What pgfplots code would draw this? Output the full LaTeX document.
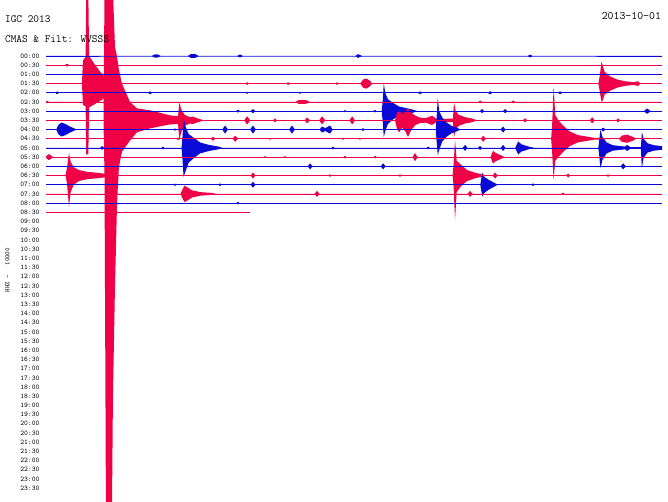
\documentclass[border=0pt]{standalone}
\usepackage{pgfplots}
\pgfplotsset{compat=1.18}
\usepackage{pgfplotstable}
\usepgfplotslibrary{fillbetween}
\definecolor{hblue}{RGB}{10,10,215}
\definecolor{hred}{RGB}{240,0,70}

% one helicorder line: t in minutes within the half hour, up/dn = envelope in line spacings
\newcommand{\trace}[3]{%
  \addplot[draw=none, forget plot, name path=u#1] table[x=t, y expr=\thisrow{up}-#1] {#3};
  \addplot[draw=none, forget plot, name path=l#1] table[x=t, y expr=-\thisrow{dn}-#1] {#3};
  \addplot[fill=#2, draw=none, forget plot] fill between[of=u#1 and l#1];
  \addplot[#2, line width=0.75pt, forget plot] table[x=t, y expr=-#1] {#3};
}

\pgfplotstableread{
t up dn
0 0 0
5.15 0 0
5.3 0.18 0.18
5.45 0.16 0.16
5.6 0 0
6.9 0 0
7.05 0.2 0.2
7.25 0.22 0.22
7.45 0 0
9.3 0 0
9.45 0.17 0.17
9.6 0 0
15.05 0 0
15.2 0.2 0.2
15.4 0 0
23.45 0 0
23.58 0.16 0.16
23.7 0 0
30 0 0
}\TrA
\pgfplotstableread{
t up dn
0 0 0
0.9 0 0
1.02 0.15 0.15
1.15 0 0
30 0 0
}\TrB
\pgfplotstableread{
t up dn
0 0 0
2.5 0 0
2.63 0.2 0.2
2.8 0 0
30 0 0
}\TrC
\pgfplotstableread{
t up dn
0 0 0
1.75 0 0
1.8 2.5 2.3
1.93 2.9 2.5
1.96 10 7.7
2.06 10 7.7
2.1 3.0 2.6
2.4 2.0 2.2
2.7 1.1 1.8
2.95 0.6 1.4
3.2 0.3 0.6
3.5 0.12 0.15
3.7 0 0
9.7 0 0
9.79 0.15 0.15
9.9 0 0
11.7 0 0
11.79 0.15 0.15
11.9 0 0
14.1 0 0
14.17 0.15 0.15
14.25 0 0
15.3 0 0
15.45 0.45 0.45
15.6 0.55 0.55
15.75 0.35 0.35
15.9 0 0
26.9 0 0
26.98 1.0 1.0
27.05 2.4 1.96
27.12 1.9 1.8
27.2 1.3 1.2
27.45 0.8 0.8
27.8 0.45 0.45
28.2 0.25 0.25
28.6 0.15 0.15
28.84 0.25 0.25
28.95 0 0
30 0 0
}\TrD
\pgfplotstableread{
t up dn
0 0 0
0.45 0 0
0.54 0.16 0.16
0.65 0 0
4.95 0 0
5.07 0.16 0.16
5.2 0 0
9.72 0 0
9.79 0.12 0.12
9.86 0 0
12.3 0 0
12.37 0.12 0.12
12.44 0 0
18.1 0 0
18.22 0.16 0.16
18.35 0 0
21.5 0 0
21.63 0.17 0.17
21.75 0 0
24.92 0 0
25.04 0.16 0.16
25.15 0 0
30 0 0
}\TrE
\pgfplotstableread{
t up dn
0 0 0
0.05 0.15 0.15
0.15 0 0
12.15 0 0
12.3 0.2 0.2
12.5 0.22 0.22
12.7 0.18 0.18
12.85 0 0
21.05 0 0
21.14 0.16 0.16
21.25 0 0
22.65 0 0
22.75 0.16 0.16
22.85 0 0
30 0 0
}\TrF
\pgfplotstableread{
t up dn
0 0 0
9.25 0 0
9.35 0.16 0.16
9.45 0 0
9.95 0 0
10.08 0.22 0.22
10.2 0 0
14.5 0 0
14.56 0.12 0.12
14.65 0 0
15.95 0 0
16.03 0.15 0.15
16.1 0 0
16.35 0 0
16.4 1.2 1.2
16.45 3.05 2.83
16.52 2.0 2.2
16.65 1.3 1.4
16.9 0.9 0.9
17.2 0.5 0.5
17.6 0.3 0.3
17.9 0.15 0.15
18.1 0 0
21.12 0 0
21.24 0.22 0.22
21.35 0 0
22.24 0 0
22.36 0.22 0.22
22.48 0 0
29.12 0 0
29.27 0.3 0.3
29.45 0 0
30 0 0
}\TrG
\pgfplotstableread{
t up dn
0 0 0
2.8 0 0
2.85 14 6
2.92 14 43
3.21 14 43
3.26 14 30
3.36 8.0 18
3.46 6.9 9
3.55 5.5 5.1
3.70 4.0 3.4
4.09 2.0 2.2
4.43 1.3 1.3
5.07 1.09 0.87
6.04 0.54 0.44
6.43 0.45 0.4
6.5 2.0 2.15
6.58 1.2 1.3
6.75 0.6 0.6
7.0 0.35 0.35
7.16 0.4 0.4
7.4 0.2 0.2
7.7 0 0
9.65 0 0
9.79 0.44 0.44
9.95 0 0
11.05 0 0
11.15 0.22 0.22
11.25 0 0
12.6 0 0
12.71 0.33 0.33
12.85 0 0
13.3 0 0
13.44 0.44 0.44
13.6 0 0
14.78 0 0
14.91 0.44 0.44
15.05 0 0
17.0 0 0
17.1 0.9 1.0
17.2 1.1 1.3
17.35 0.7 0.8
17.5 1.0 1.2
17.63 1.3 1.8
17.8 0.8 1.0
18.0 0.5 0.5
18.2 0.3 0.3
18.5 0.25 0.25
18.8 0.5 0.5
19.0 0.2 0.2
19.3 0.15 0.15
19.82 0.2 0.2
19.87 1.96 1.85
19.95 1.0 1.0
20.1 0.6 0.6
20.4 0.35 0.35
20.75 0.2 0.2
21.0 0 0
23.22 0 0
23.33 0.22 0.22
23.45 0 0
26.48 0 0
26.6 0.33 0.33
26.72 0 0
27.76 0 0
27.86 0.22 0.22
27.96 0 0
30 0 0
}\TrH
\pgfplotstableread{
t up dn
0 0 0
0.5 0 0
0.6 0.5 0.5
0.75 0.76 0.76
0.95 0.6 0.6
1.15 0.35 0.35
1.35 0.15 0.15
1.5 0 0
6.2 0 0
6.28 0.12 0.12
6.36 0 0
8.58 0 0
8.72 0.44 0.44
8.86 0 0
9.94 0 0
10.08 0.44 0.44
10.22 0 0
11.84 0 0
11.98 0.44 0.44
12.12 0 0
13.32 0 0
13.44 0.33 0.33
13.6 0.15 0.15
13.83 0.44 0.44
13.97 0 0
15.36 0 0
15.44 0.16 0.16
15.52 0 0
18.98 0 0
19.02 1.2 1.2
19.08 3.4 2.8
19.15 2.0 2.2
19.3 1.3 1.3
19.5 0.8 0.8
19.75 0.4 0.4
20.0 0.2 0.2
20.2 0 0
22.14 0 0
22.26 0.33 0.33
22.38 0 0
27.02 0 0
27.13 0.22 0.22
27.25 0 0
30 0 0
}\TrI
\pgfplotstableread{
t up dn
0 0 0
6.35 0 0
6.43 0.15 0.15
6.5 0 0
8.03 0 0
8.13 0.22 0.22
8.25 0 0
9.08 0 0
9.21 0.33 0.33
9.35 0 0
10.85 0 0
10.91 0.12 0.12
10.98 0 0
14.4 0 0
14.47 0.12 0.12
14.54 0 0
15.22 0 0
15.29 0.12 0.12
15.36 0 0
21.17 0 0
21.29 0.33 0.33
21.42 0 0
24.6 0 0
24.65 1.5 1.5
24.72 5.66 4.46
24.8 2.6 2.4
24.95 2.0 2.0
25.2 1.4 1.4
25.5 0.8 0.8
25.9 0.4 0.4
26.3 0.25 0.25
26.7 0.1 0.1
27.9 0 0
28.06 0.35 0.35
28.3 0.44 0.44
28.59 0.2 0.2
28.75 0 0
30 0 0
}\TrJ
\pgfplotstableread{
t up dn
0 0 0
2.63 0 0
2.73 0.2 0.2
2.85 0 0
5.62 0 0
5.7 0.15 0.15
5.78 0 0
6.6 0 0
6.65 1.3 1.3
6.7 3.26 3.16
6.8 2.3 2.5
6.95 1.5 1.6
7.2 1.1 1.1
7.5 0.6 0.6
7.9 0.35 0.35
8.4 0.15 0.15
8.6 0 0
13.9 0 0
13.98 0.15 0.15
14.06 0 0
18.53 0 0
18.61 0.15 0.15
18.7 0 0
20.29 0 0
20.41 0.33 0.33
20.53 0 0
21.04 0 0
21.14 0.22 0.22
21.24 0 0
22.14 0 0
22.26 0.33 0.33
22.38 0 0
22.85 0 0
22.95 0.5 0.5
23.0 0.7 0.7
23.15 0.4 0.4
23.5 0.15 0.15
23.8 0 0
26.9 0 0
26.95 1.0 1.0
27.0 2.0 2.2
27.1 1.2 1.3
27.3 0.6 0.6
27.6 0.3 0.3
28.0 0.2 0.2
28.2 0.15 0.15
28.3 0.33 0.33
28.45 0.1 0.1
28.97 0.1 0.1
29.02 1.75 2.2
29.1 1.0 1.1
29.3 0.5 0.5
29.6 0.3 0.3
30 0.2 0.2
}\TrK
\pgfplotstableread{
t up dn
0 0.1 0.1
0.15 0.33 0.33
0.35 0 0
10.6 0 0
10.67 0.12 0.12
10.74 0 0
11.57 0 0
11.64 0.12 0.12
11.71 0 0
14.48 0 0
14.56 0.15 0.15
14.64 0 0
15.95 0 0
16.03 0.15 0.15
16.11 0 0
17.85 0 0
17.97 0.44 0.44
18.1 0 0
21.65 0 0
21.77 0.7 0.7
21.9 0.45 0.45
22.15 0.2 0.2
22.35 0 0
30 0 0
}\TrL
\pgfplotstableread{
t up dn
0 0 0
12.74 0 0
12.86 0.33 0.33
12.98 0 0
16.3 0 0
16.42 0.33 0.33
16.54 0 0
27.98 0 0
28.11 0.33 0.33
28.24 0 0
30 0 0
}\TrM
\pgfplotstableread{
t up dn
0 0 0
0.95 0 0
1.02 0.8 0.8
1.12 2.46 3.42
1.2 1.5 1.8
1.35 0.9 1.0
1.6 0.6 0.6
2.0 0.4 0.4
2.5 0.3 0.3
3.0 0.15 0.15
3.3 0 0
9.96 0 0
10.08 0.33 0.33
10.2 0 0
13.76 0 0
13.83 0.15 0.15
13.9 0 0
17.17 0 0
17.24 0.15 0.15
17.31 0 0
19.8 0 0
19.85 1.2 1.2
19.92 3.87 4.83
20.0 1.6 1.8
20.2 1.2 1.2
20.5 0.6 0.6
20.9 0.3 0.3
21.2 0.15 0.15
21.4 0 0
21.75 0 0
21.87 0.33 0.33
22.0 0 0
25.33 0 0
25.43 0.22 0.22
25.53 0 0
27.3 0 0
27.37 0.15 0.15
27.45 0 0
30 0 0
}\TrN
\pgfplotstableread{
t up dn
0 0 0
6.2 0 0
6.28 0.12 0.12
6.36 0 0
8.4 0 0
8.48 0.15 0.15
8.56 0 0
9.96 0 0
10.08 0.33 0.33
10.2 0 0
21.15 0 0
21.2 0.7 0.7
21.25 1.3 1.3
21.35 0.85 0.9
21.55 0.55 0.55
21.8 0.25 0.25
22.0 0 0
23.64 0 0
23.72 0.15 0.15
23.8 0 0
30 0 0
}\TrO
\pgfplotstableread{
t up dn
0 0 0
6.55 0 0
6.65 0.5 0.5
6.75 0.9 0.9
6.9 0.7 0.7
7.1 0.4 0.4
7.5 0.2 0.2
8.1 0.1 0.1
8.3 0 0
13.08 0 0
13.2 0.33 0.33
13.32 0 0
20.53 0 0
20.65 0.33 0.33
20.78 0 0
25.1 0 0
25.18 0.15 0.15
25.26 0 0
30 0 0
}\TrP
\pgfplotstableread{
t up dn
0 0 0
9.27 0 0
9.35 0.15 0.15
9.43 0 0
30 0 0
}\TrQ
\pgfplotstableread{
t up dn
0 0 0
9.94 0 0
}\TrR

\begin{document}
\begin{tikzpicture}
\begin{axis}[
  name=ax,
  scale only axis,
  width=616pt, height=501pt,
  xmin=0, xmax=30,
  ymin=-48.4, ymax=6.09,
  clip mode=individual,
  axis line style={draw=none},
  xtick=\empty,
  ytick={0,-1,...,-47},
  yticklabels={00:00,00:30,01:00,01:30,02:00,02:30,03:00,03:30,04:00,04:30,05:00,05:30,06:00,06:30,07:00,07:30,08:00,08:30,09:00,09:30,10:00,10:30,11:00,11:30,12:00,12:30,13:00,13:30,14:00,14:30,15:00,15:30,16:00,16:30,17:00,17:30,18:00,18:30,19:00,19:30,20:00,20:30,21:00,21:30,22:00,22:30,23:00,23:30},
  major tick length=0pt,
  yticklabel style={font=\ttfamily\fontsize{7.2}{8}\selectfont, xshift=-3pt},
]
\trace{0}{hblue}{\TrA}
\trace{1}{hred}{\TrB}
\trace{2}{hblue}{\TrC}
\trace{3}{hred}{\TrD}
\trace{4}{hblue}{\TrE}
\trace{5}{hred}{\TrF}
\trace{6}{hblue}{\TrG}
\trace{7}{hred}{\TrH}
\trace{8}{hblue}{\TrI}
\trace{9}{hred}{\TrJ}
\trace{10}{hblue}{\TrK}
\trace{11}{hred}{\TrL}
\trace{12}{hblue}{\TrM}
\trace{13}{hred}{\TrN}
\trace{14}{hblue}{\TrO}
\trace{15}{hred}{\TrP}
\trace{16}{hblue}{\TrQ}
\trace{17}{hred}{\TrR}
\node[anchor=west, inner sep=0pt, font=\ttfamily\fontsize{11}{13}\selectfont] at (axis cs:-2.0,3.97) {IGC 2013};
\node[anchor=west, inner sep=0pt, font=\ttfamily\fontsize{11}{13}\selectfont] at (axis cs:-2.0,1.85) {CMAS \& Filt: WVSSS};
\node[anchor=east, inner sep=0pt, font=\ttfamily\fontsize{11.5}{13}\selectfont] at (axis cs:29.96,4.3) {2013-10-01};
\node[rotate=90, inner sep=0pt, font=\ttfamily\fontsize{6.5}{8}\selectfont] at (axis cs:-1.885,-23.3) {HHZ\hspace{3pt}-\hspace{10pt}10000};
\end{axis}
\pgfresetboundingbox
\path[use as bounding box] ([xshift=-46pt]ax.south west) rectangle ([xshift=6pt]ax.north east);
\end{tikzpicture}
\end{document}
